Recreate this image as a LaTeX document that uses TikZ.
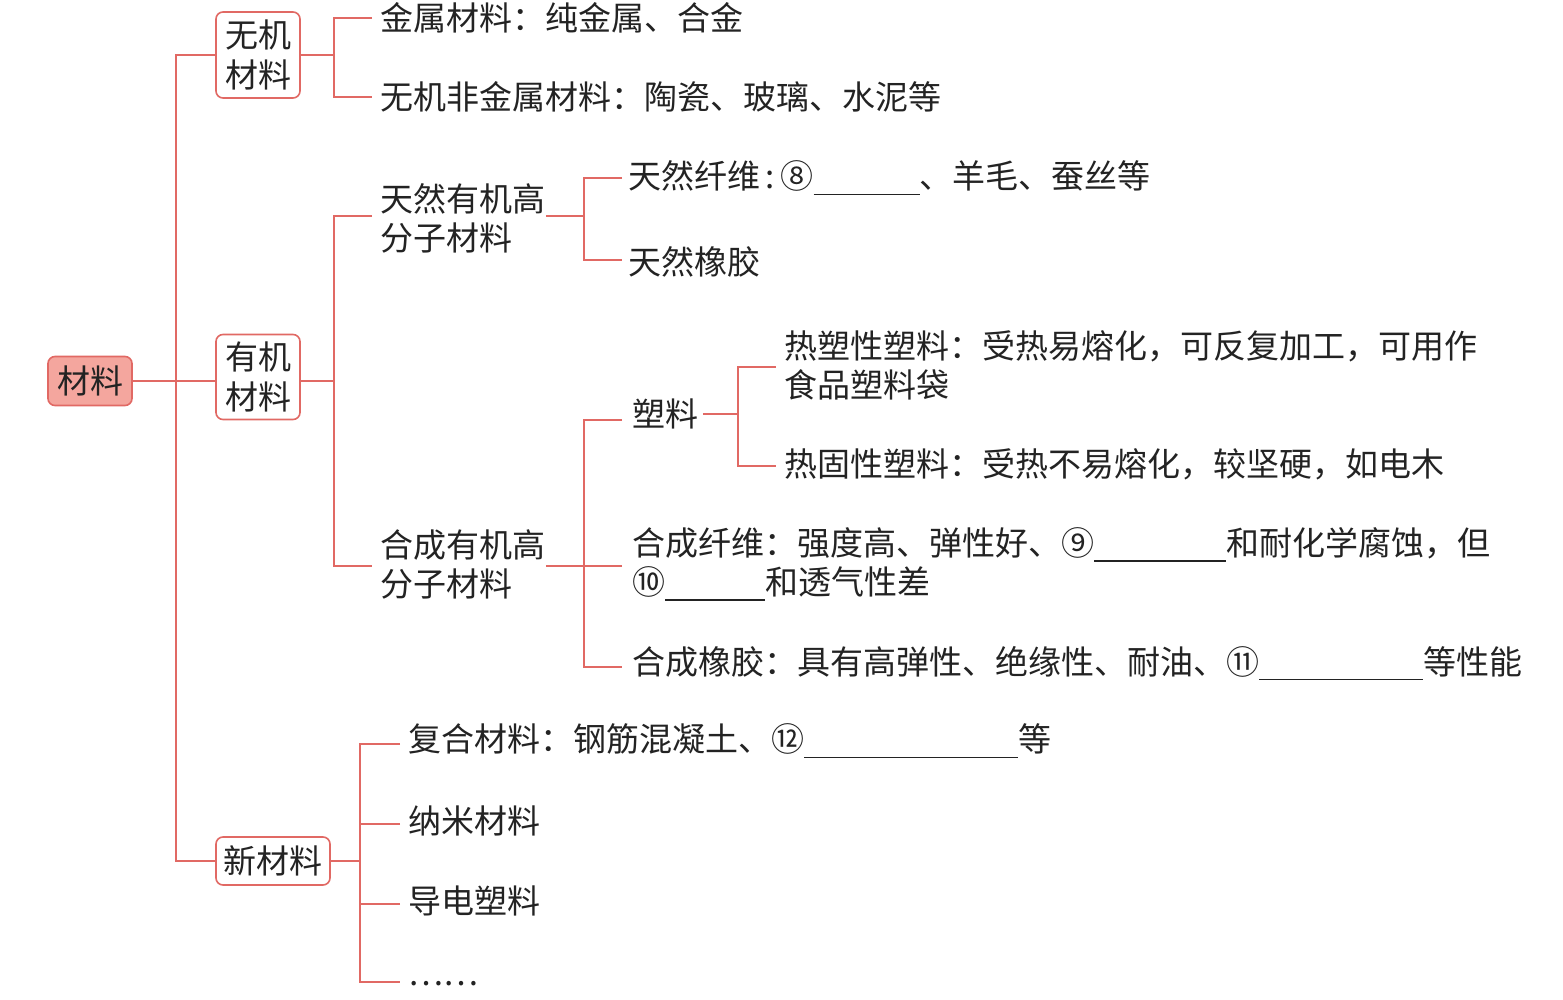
\documentclass[tikz,border=0pt]{standalone}
\usepackage{fontspec}
\usetikzlibrary{calc}
\newfontfamily\cjk{Noto Sans CJK SC}
\definecolor{lc}{RGB}{225,105,100}
\definecolor{rootfill}{RGB}{244,166,158}
\definecolor{tx}{RGB}{35,35,35}
\newcommand{\blank}[1]{\rule[-3pt]{#1pt}{0.7pt}}
\tikzset{
  ln/.style={draw=lc, line width=0.8pt},
  cbox/.style={draw=lc, line width=0.8pt, rounded corners=3.5pt, align=center, inner sep=0pt,
    font=\cjk\fontsize{16.5}{20}\selectfont, text=tx},
  txt/.style={anchor=west, align=left, inner sep=0pt, font=\cjk\fontsize{16.5}{19.5}\selectfont, text=tx}
}
\begin{document}
\begin{tikzpicture}[x=0.5pt,y=-0.5pt]
\useasboundingbox (0,0) rectangle (1563,1000);
% boxes
\node[cbox, fill=rootfill, minimum width=42pt, minimum height=24.5pt] (root) at (90,381) {材料};
\node[cbox, fill=white, minimum width=42pt, minimum height=43pt] (wuji) at (258,55) {无机\\材料};
\node[cbox, fill=white, minimum width=42pt, minimum height=42.5pt] (youji) at (258,377) {有机\\材料};
\node[cbox, fill=white, minimum width=57pt, minimum height=24pt] (xin) at (273,861) {新材料};
% inorganic
\node[txt] (jinshu) at (380,18) {金属材料：纯金属、合金};
\node[txt] (fei) at (380,97) {无机非金属材料：陶瓷、玻璃、水泥等};
% organic
\node[txt] (tianran) at (380,218) {天然有机高\\分子材料};
\node[txt] (xianwei) at (628,178) {天然纤维\,:\,⑧\blank{53}、羊毛、蚕丝等};
\node[txt] (xiangjiao) at (628,262) {天然橡胶};
\node[txt] (hecheng) at (380,564) {合成有机高\\分子材料};
\node[txt] (suliao) at (632,414) {塑料};
\node[txt] (resu) at (784,365) {热塑性塑料：受热易熔化，可反复加工，可用作\\食品塑料袋};
\node[txt] (regu) at (784,464) {热固性塑料：受热不易熔化，较坚硬，如电木};
\node[txt] (hxw) at (632,564) {合成纤维：强度高、弹性好、⑨\blank{66}和耐化学腐蚀，但\\⑩\blank{50}和透气性差};
\node[txt] (hxj) at (632,663) {合成橡胶：具有高弹性、绝缘性、耐油、⑪\blank{82}等性能};
% new
\node[txt] (fuhe) at (408,741) {复合材料：钢筋混凝土、⑫\blank{107}等};
\node[txt] (nami) at (408,821) {纳米材料};
\node[txt] (daodian) at (408,901) {导电塑料};
\node[txt] (etc) at (408,984) {……};
% junctions
\coordinate (j0) at (176,381);
\coordinate (j1) at (334,55);
\coordinate (j2) at (334,381);
\coordinate (j3) at (584,216);
\coordinate (j4) at (584,566);
\coordinate (j5) at (738,414);
\coordinate (j6) at (360,861);
% connectors
\draw[ln] (root.east) -- (root.east -| youji.west);
\draw[ln] (wuji.west) -| (j0) |- (xin.west);
\draw[ln] (wuji.east) -- (j1);
\draw[ln] (jinshu.west) ++(-8,0) -| (j1) |- ($(fei.west)+(-8,0)$);
\draw[ln] (youji.east |- j2) -- (j2);
\draw[ln] (tianran.west) ++(-8,-2) -| (j2) |- ($(hecheng.west)+(-8,2)$);
\draw[ln] (tianran.east |- j3) -- (j3);
\draw[ln] (xianwei.west) ++(-6,0) -| (j3) |- ($(xiangjiao.west)+(-6,-2)$);
\draw[ln] (hecheng.east |- j4) -- (j4);
\draw[ln] (suliao.west) ++(-10,6) -| (j4) |- ($(hxj.west)+(-10,4)$);
\draw[ln] ($(hxw.west)+(-10,2)$) -- (j4);
\draw[ln] ($(suliao.east)+(4,0)$) -- (j5);
\draw[ln] (resu.west) ++(-8,2) -| (j5) |- ($(regu.west)+(-8,2)$);
\draw[ln] (xin.east) -- (j6);
\draw[ln] (fuhe.west) ++(-8,3) -| (j6) |- ($(etc.west)+(-8,-2)$);
\draw[ln] (nami.west) ++(-8,3) -- ++(-40,0);
\draw[ln] (daodian.west) ++(-8,3) -- ++(-40,0);
\end{tikzpicture}
\end{document}
